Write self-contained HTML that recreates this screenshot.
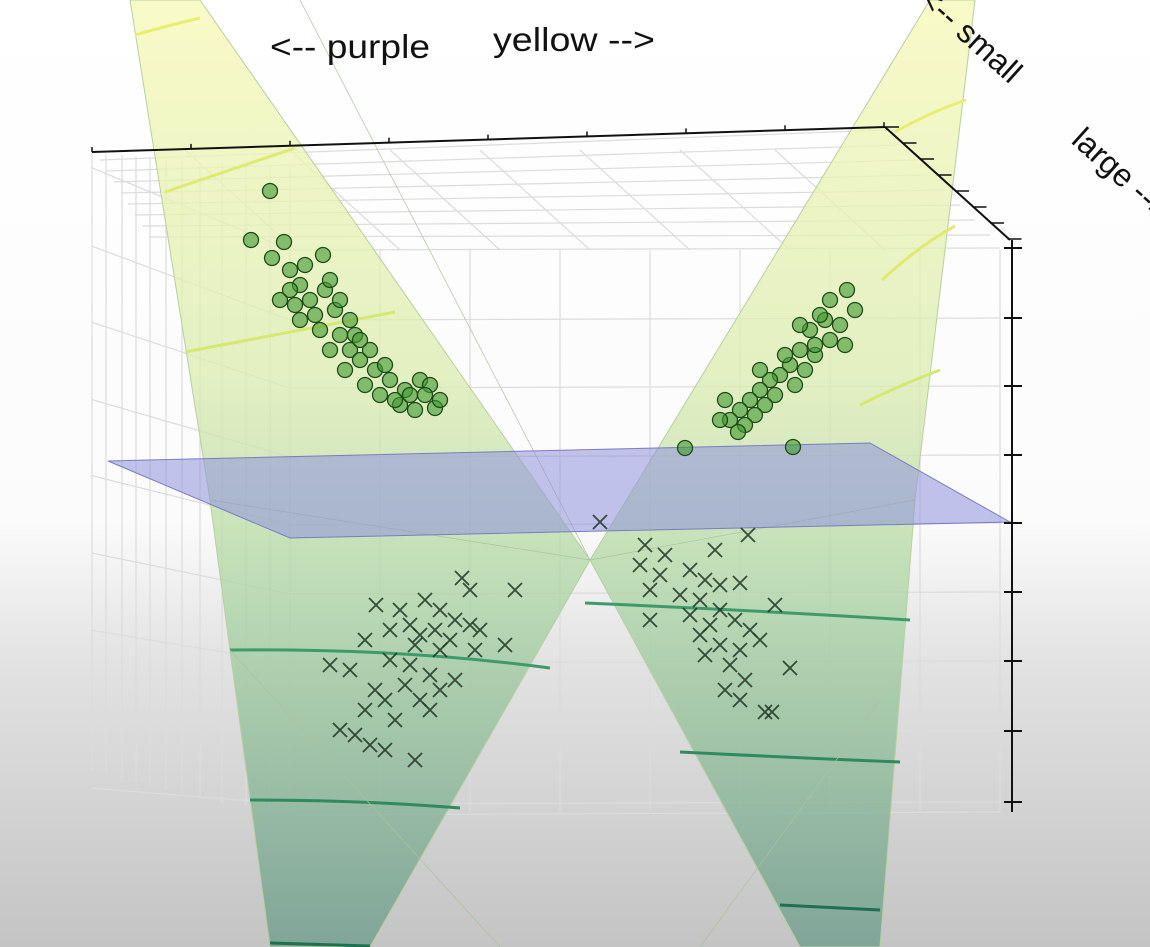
<!DOCTYPE html>
<html><head><meta charset="utf-8"><style>
html,body{margin:0;padding:0;width:1150px;height:947px;overflow:hidden;background:#fff}
svg{display:block}
text{font-family:"Liberation Sans",sans-serif;fill:#111}
</style></head><body>
<svg id="chart" width="1150" height="947" viewBox="0 0 1150 947">
<defs>
<linearGradient id="bg" x1="0" y1="0" x2="0" y2="1">
<stop offset="0" stop-color="#ffffff"/><stop offset="0.55" stop-color="#fbfbfb"/><stop offset="0.7" stop-color="#e2e2e2"/><stop offset="1" stop-color="#c4c4c4"/></linearGradient>
<linearGradient id="sheet" gradientUnits="userSpaceOnUse" x1="0" y1="0" x2="0" y2="947">
<stop offset="0" stop-color="#f7f9b8"/><stop offset="0.4" stop-color="#dcecb2"/><stop offset="0.65" stop-color="#a9d3a4"/><stop offset="1" stop-color="#6d9c8c"/></linearGradient>
</defs>
<rect width="1150" height="947" fill="url(#bg)"/>
<g id="grid" stroke="#dcdcdc" stroke-width="1.2" fill="none"></g>
<g id="sheets"></g>
<polygon points="108,461 870,443 1010,522 290,538" fill="#8f92dc" fill-opacity="0.55" stroke="#7a7cc0" stroke-width="1"/>
<g id="marks"></g>
<g id="axes" stroke="#111" stroke-width="2"></g>
<text x="270" y="58" font-size="33" textLength="160" lengthAdjust="spacingAndGlyphs">&lt;-- purple</text>
<text x="493" y="51" font-size="33" textLength="162" lengthAdjust="spacingAndGlyphs">yellow --&gt;</text>
<text x="0" y="0" font-size="32" transform="translate(918,2) rotate(42)">&lt;-- small</text>
<text x="0" y="0" font-size="32" transform="translate(1070,142) rotate(42)">large --&gt;</text>
</svg>
<script>
const NS='http://www.w3.org/2000/svg';
// data in plot units (0..115 horizontal, 0..94.7 vertical)
const circleX=[27,25.1,28.4,27.2,32.3,29,30,28,31,32.5,30,33.5,32,34,35,33,36,34.5,37.5,36.5,39,38,40.5,42,43,40,41.5,43.5,44,35,31.5,29.5,34,35.5,37,39.5,42.5,29,30.5,33,36,38.5,41,
 84.7,83,85.5,84,82.5,81,83,84.5,80,81.5,79,80.5,78,77,79.5,76,77.5,75,76.5,74,75.5,73,74.5,72,73.8,72.5,68.5,79.3,81.5,78.5,76,80,82];
const circleY=[19.1,24,24.2,25.8,25.5,27,28.5,30,30,29,32,31,33,33.5,35,35,36,37,37,38.5,38,39.5,39,38,38.5,40.5,41,40.8,40,32,31.5,30.5,30,33.5,35,40,39.5,29,26.5,28,34,36.5,39.5,
 29,30,31,32.5,32,33,34,34.5,35,35.5,36.5,37,37.5,38,38.5,39,39.5,40,40.5,41,41.5,42,42.5,42,43.2,40,44.8,44.7,34.5,35.5,37,32.5,31.5];
const crossX=[46.2,47,51.5,37.6,40,42.5,44,45.5,47,41,42,43.5,45,48,39,36.5,41.5,44,47.5,33,35,39,41,43,40.5,44,45.5,37.5,36.5,38.5,39.5,34,35.5,37,38.5,41.5,43,42,50.5,
 60,74.8,64.5,66.5,71.5,64,66,69,70.5,72,74,65,68,70,72,69,71,73.5,70,72,74,65,77.5,70.5,73,74.5,79,72.5,74,76.5,77.2,76,75];
const crossY=[57.8,59,59,60.5,61,60,61,62,62.5,62.5,63.5,63,64,63,63,64,64.5,65,65,66.5,67,66,66.5,67.5,68.5,69,68,69,71,70,72,73,73.5,74.5,75,76,71,70,64.5,
 52.2,53.5,54.5,55.5,55,56.5,57.5,57,58,58.5,58.3,59,59.5,60,61,61.5,62.5,62,63.5,64.5,65,62,60.5,65.5,66.5,68,66.8,69,70,71.2,71.2,64,63];
const zTicks=[24.8,31.8,38.6,45.5,52.3,59.2,66.1,73.1,80.2];
const sx=v=>v*10, sy=v=>v*10;

function el(tag,attrs,parent){const e=document.createElementNS(NS,tag);for(const k in attrs)e.setAttribute(k,attrs[k]);parent.appendChild(e);return e;}
const grid=document.getElementById('grid');
[92,106,122,136,150,166,182,200,222,246,270,290].forEach((x,i)=>{const l=el('line',{x1:x,y1:152-i*0.5+ i*2,x2:x,y2:770+i*4},grid);});
zTicks.forEach(t=>{const y=sy(t);const l=el('line',{x1:290,y1:y+2,x2:1000,y2:y},grid);
 const l2=el('line',{x1:92,y1:y-80+ (y-250)*0.12,x2:290,y2:y+2},grid);});
[380,470,560,650,740,830,920,1000].forEach(x=>{const l=el('line',{x1:x,y1:250,x2:x,y2:810},grid);});
for(let i=0;i<8;i++){const y=160+i*11;const l=el('line',{x1:100+i*7,y1:y,x2:885+i*15,y2:130+i*15},grid);}
[185,290,390,480,580,680,775].forEach(x=>{const l=el('line',{x1:x,y1:150,x2:x+110,y2:250},grid);});
const bot=el('line',{x1:290,y1:815,x2:1000,y2:812},grid);

const sh=document.getElementById('sheets');
const p1=el('path',{d:'M130,0 L200,0 L590,560 L370,947 L270,947 L230,650 L210,500 Z',fill:'url(#sheet)','fill-opacity':'0.78',stroke:'#b8cfa0','stroke-width':'1'},sh);

const p2=el('path',{d:'M930,0 L975,0 L915,500 L880,947 L800,947 L590,560 Z',fill:'url(#sheet)','fill-opacity':'0.78',stroke:'#b8cfa0','stroke-width':'1'},sh);

[['M135,35 Q170,25 200,18','#e8ee70'],['M165,192 Q230,170 295,148','#e0ea70'],['M185,352 Q300,330 395,312','#d6e870'],['M895,132 Q930,112 966,100','#e8ee70'],['M882,280 Q920,245 955,226','#e0ea70'],['M860,405 Q900,385 940,370','#d6e870'],
 ['M230,650 Q400,648 550,668','#3f9a6a'],['M250,800 Q360,800 460,808','#2f8a60'],['M270,943 L370,946','#1f7050'],['M585,603 Q750,610 910,620','#3f9a6a'],['M680,752 Q800,758 900,762','#2f8a60'],['M780,905 L880,910','#1f7050']].forEach(c=>{
 const l=el('path',{d:c[0],stroke:c[1],'stroke-width':'3',fill:'none'},sh);});
[['M210,500 L590,560'],['M230,650 L500,947'],['M300,0 L590,560'],['M915,500 L590,560'],['M880,700 L700,947']].forEach(c=>{const l=el('path',{d:c[0],stroke:'#a8c49c','stroke-width':'0.7',fill:'none'},sh);});

const mk=document.getElementById('marks');
circleX.forEach((v,i)=>{const c=el('circle',{cx:sx(v),cy:sy(circleY[i]),r:7.5,fill:'#3f9a30','fill-opacity':'0.6',stroke:'#1e4a18','stroke-width':'1.3'},mk);
 });
crossX.forEach((v,i)=>{const x=sx(v),y=sy(crossY[i]),d=7;
 const p=el('path',{d:`M${x-d},${y-d}L${x+d},${y+d}M${x+d},${y-d}L${x-d},${y+d}`,stroke:'#1b3322','stroke-width':'1.8','stroke-opacity':'0.85'},mk);
 });

const ax=document.getElementById('axes');
const a1=el('line',{x1:92,y1:152,x2:885,y2:127},ax);
const a2=el('line',{x1:885,y1:127,x2:1010,y2:240},ax);
const a3=el('line',{x1:1012,y1:240,x2:1012,y2:812},ax);
for(let i=0;i<9;i++){const x=92+i*99,y=152-i*3.1;const t=el('line',{x1:x,y1:y,x2:x,y2:y-5,'stroke-width':'1.5'},ax);}
for(let i=0;i<8;i++){const x=885+i*17.5,y=127+i*16;const t=el('line',{x1:x,y1:y,x2:x+14,y2:y,'stroke-width':'1.5'},ax);}
zTicks.forEach(t=>{const y=sy(t);const l=el('line',{x1:1004,y1:y,x2:1022,y2:y},ax);});
</script>
</body></html>
